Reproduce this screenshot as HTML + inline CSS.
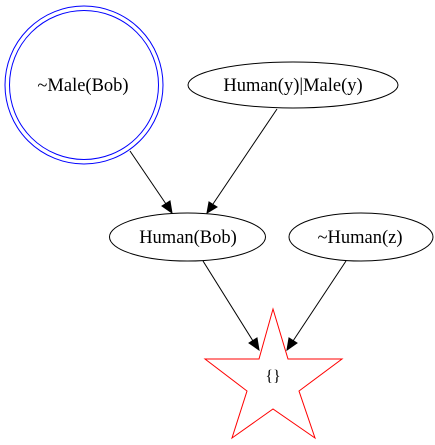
<!DOCTYPE html>
<html><head><meta charset="utf-8"><style>html,body{margin:0;padding:0;background:#fff}svg{display:block}</style></head>
<body>
<svg width="435" height="445" viewBox="0 0 435 445" xmlns="http://www.w3.org/2000/svg" font-family="'Liberation Serif', serif" font-size="18.5">
<rect width="435" height="445" fill="#fff"/>
<g>
<circle cx="84" cy="85" r="79" fill="none" stroke="blue"/>
<circle cx="84" cy="85" r="74.5" fill="none" stroke="blue"/>
<text x="83" y="91" text-anchor="middle">~Male(Bob)</text>
</g>
<g>
<ellipse cx="293" cy="85" rx="105" ry="23" fill="none" stroke="#000"/>
<text x="293" y="91" text-anchor="middle">Human(y)|Male(y)</text>
</g>
<g>
<ellipse cx="187.5" cy="237" rx="78" ry="24" fill="none" stroke="#000"/>
<text x="188" y="243" text-anchor="middle">Human(Bob)</text>
</g>
<g>
<ellipse cx="361" cy="237" rx="72" ry="24" fill="none" stroke="#000"/>
<text x="360" y="243" text-anchor="middle">~Human(z)</text>
</g>
<g>
<polygon points="273,309 288,359 342,359 299,391 315,438 273,409 232,438 247,391 205,359 259,359" fill="none" stroke="red"/>
<text x="273" y="381" text-anchor="middle" font-size="16">{}</text>
</g>
<g>
<line x1="130" y1="151" x2="166" y2="204" stroke="#000"/>
<polygon points="172,213 162,206 170,201" fill="#000" stroke="#000"/>
</g>
<g>
<line x1="277" y1="109" x2="213" y2="204" stroke="#000"/>
<polygon points="207,213 209,202 217,207" fill="#000" stroke="#000"/>
</g>
<g>
<line x1="203" y1="261" x2="253" y2="341" stroke="#000"/>
<polygon points="259,350 249,343 257,338" fill="#000" stroke="#000"/>
</g>
<g>
<line x1="346" y1="261" x2="293" y2="341" stroke="#000"/>
<polygon points="287,350 289,338 297,343" fill="#000" stroke="#000"/>
</g>
</svg>
</body></html>
